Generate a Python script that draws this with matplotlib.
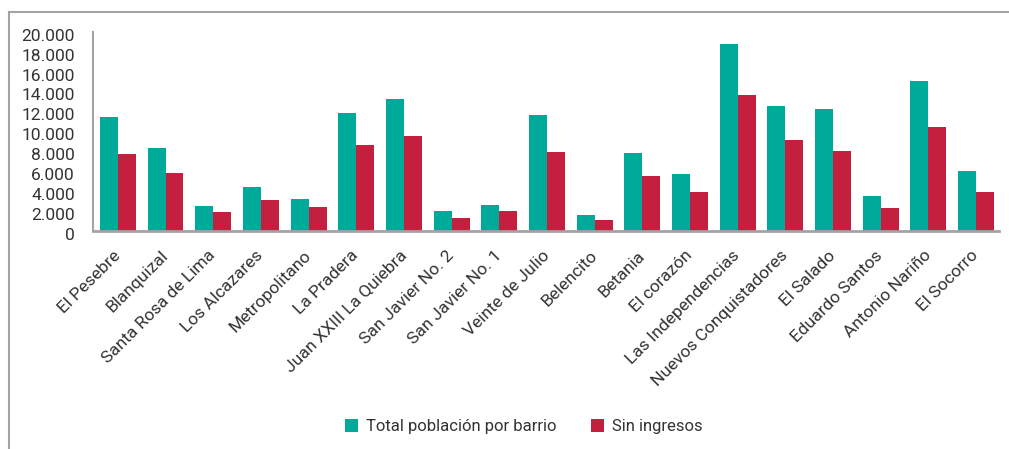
import matplotlib
matplotlib.use("Agg")
import matplotlib.pyplot as plt
import matplotlib.transforms as mtransforms
import numpy as np
from matplotlib.lines import Line2D
from matplotlib.patches import Patch
from matplotlib.ticker import FuncFormatter

barrios = ["El Pesebre", "Blanquizal", "Santa Rosa de Lima", "Los Alcazares",
           "Metropolitano", "La Pradera", "Juan XXIII La Quiebra", "San Javier No. 2",
           "San Javier No. 1", "Veinte de Julio", "Belencito", "Betania", "El corazón",
           "Las Independencias", "Nuevos Conquistadores", "El Salado", "Eduardo Santos",
           "Antonio Nariño", "El Socorro"]
total_poblacion = [11460, 8340, 2490, 4400, 3190, 11870, 13280, 1980, 2590, 11660,
                   1580, 7830, 5710, 18820, 12570, 12270, 3500, 15090, 6020]
sin_ingresos = [7730, 5820, 1880, 3090, 2390, 8640, 9550, 1280, 1980, 7930,
                1080, 5510, 3900, 13680, 9140, 8030, 2290, 10450, 3900]
serie_labels = ["Total población por barrio", "Sin ingresos"]
yticks = list(range(0, 20001, 2000))

TEAL = "#00aa9b"
RED = "#c41f3e"
GRAY = "#a3a3a6"
TXT = "#333333"

plt.rcParams['font.family'] = ['Roboto', 'DejaVu Sans']

fig = plt.figure(figsize=(10.09, 4.49), dpi=100)
ax = fig.add_axes([0.0922, 0.4855, 0.8978, 0.4425])

x = np.arange(len(barrios))
w = 0.377
ax.bar(x - w/2, total_poblacion, width=w, color=TEAL, label=serie_labels[0])
ax.bar(x + w/2, sin_ingresos, width=w, color=RED, label=serie_labels[1])

ax.set_xlim(-0.52, len(barrios) - 0.52)
ax.set_ylim(0, 20000)
ax.set_yticks(yticks)
ax.yaxis.set_major_formatter(FuncFormatter(lambda v, p: f"{int(v):,}".replace(",", ".")))
ax.tick_params(axis='y', length=0, pad=13, labelsize=12.5, labelcolor=TXT)
ax.tick_params(axis='x', length=0, pad=16, labelsize=12.5, labelcolor=TXT)
ax.set_xticks(x)
ax.set_xticklabels(barrios, rotation=45, ha='right', va='center', rotation_mode='anchor')

offset = mtransforms.ScaledTranslation(0, -2.5/100, fig.dpi_scale_trans)
for lbl in ax.get_yticklabels():
    lbl.set_transform(lbl.get_transform() + offset)

for s in ['top', 'right']:
    ax.spines[s].set_visible(False)
ax.spines['left'].set_color(GRAY)
ax.spines['left'].set_linewidth(1.5)
ax.spines['bottom'].set_color(GRAY)
ax.spines['bottom'].set_linewidth(2.0)

handles = [Patch(facecolor=TEAL), Patch(facecolor=RED)]
fig.legend(handles, serie_labels, loc='center', bbox_to_anchor=(0.519, 0.05),
           ncol=2, frameon=False, fontsize=12, handlelength=0.8, handleheight=0.8,
           handletextpad=0.45, columnspacing=2.1, labelcolor=TXT)

fig.add_artist(Line2D([8.5/1009, 1.0], [1 - 11.5/449, 1 - 11.5/449],
                      color=GRAY, lw=1.5, transform=fig.transFigure))
fig.add_artist(Line2D([8.5/1009, 8.5/1009], [0, 1 - 11.5/449],
                      color=GRAY, lw=1.5, transform=fig.transFigure))

fig.savefig("out.png", dpi=100)
